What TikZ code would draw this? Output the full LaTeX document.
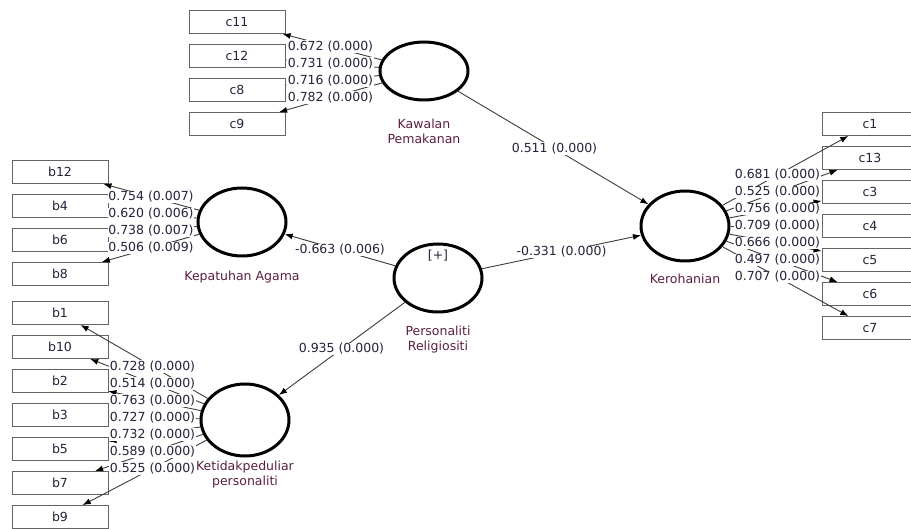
\documentclass[tikz,border=0pt]{standalone}
\usepackage{fontspec}
\setmainfont{DejaVu Sans}
\usetikzlibrary{arrows.meta,shapes.geometric,positioning,calc}

\definecolor{namecol}{RGB}{90,30,65}
\definecolor{numcol}{RGB}{35,35,60}
\definecolor{linecol}{RGB}{60,60,60}
\definecolor{boxcol}{RGB}{100,100,100}

\tikzset{
  latent/.style={ellipse,draw=black,line width=3pt,minimum width=88pt,
    minimum height=68pt,inner sep=0pt},
  indic/.style={rectangle,draw=boxcol,line width=0.9pt,fill=white,
    minimum width=96pt,minimum height=23pt,inner sep=0pt,text=numcol},
  lname/.style={text=namecol,align=center,inner sep=1pt},
  wt/.style={fill=white,inner sep=0.6pt,text=numcol},
  link/.style={draw=linecol,line width=0.9pt,->},
}

\begin{document}
\begin{tikzpicture}[>={Latex[length=8pt,width=6pt,color=black]},
        x=1pt,y=-1pt,font=\fontsize{12.5}{15}\selectfont]
  \useasboundingbox (0,0) rectangle (911,529);

  % latent variables
  \node[latent,minimum height=58pt] (kp) at (424,71) {};
  \node[latent] (ka) at (242,222) {};
  \node[latent,minimum height=72pt] (kt) at (245,420) {};
  \node[latent] (pr) at (438,278) {};
  \node[latent,minimum height=70pt] (kr) at (685,226) {};

  \node[lname] (kpname) [below=16pt of kp] {Kawalan\\Pemakanan};
  \node[lname] (kaname) [below=12pt of ka] {Kepatuhan Agama};
  \node[lname] (ktname) [below=2pt of kt] {Ketidakpeduliar\\personaliti};
  \node[lname] (prname) [below=11pt of pr] {Personaliti\\Religiositi};
  \node[lname] (krname) [below=10pt of kr] {Kerohanian};
  \node[lname,anchor=north,text=numcol] (prplus) at ([yshift=-6pt]pr.north) {[+]};

  % indicators
  \foreach \nm/\y in {c11/22,c12/56,c8/90,c9/124}
    \node[indic] (\nm) at (237,\y) {\nm};
  \foreach \nm/\y in {b12/172,b4/206,b6/240,b8/274,
                      b1/313,b10/347,b2/381,b3/415,b5/449,b7/483,b9/517}
    \node[indic] (\nm) at (60,\y) {\nm};
  \foreach \nm/\y in {c1/124,c13/158,c3/192,c4/226,c5/260,c6/294,c7/328}
    \node[indic] (\nm) at (870,\y) {\nm};

  % outer paths
  \foreach \nm in {c11,c12,c8,c9} \draw[link] (kp) -- (\nm);
  \foreach \nm in {b12,b4,b6,b8} \draw[link] (ka) -- (\nm);
  \foreach \nm in {b1,b10,b2,b3,b5,b7,b9} \draw[link] (kt) -- (\nm);
  \foreach \nm in {c1,c13,c3,c4,c5,c6,c7} \draw[link] (kr) -- (\nm);

  % inner paths
  \draw[link] (kp) -- (kr);
  \draw[link] (pr) -- (ka);
  \draw[link] (pr) -- (kr);
  \draw[link] (pr) -- (kt);

  % loadings
  \foreach \nm/\w in {c11/{0.672 (0.000)},c12/{0.731 (0.000)},
                      c8/{0.716 (0.000)},c9/{0.782 (0.000)}}
    \node[wt] (w\nm) at ($(kp)!0.5!(\nm)$) {\w};
  \foreach \nm/\w in {b12/{0.754 (0.007)},b4/{0.620 (0.006)},
                      b6/{0.738 (0.007)},b8/{0.506 (0.009)}}
    \node[wt] (w\nm) at ($(ka)!0.5!(\nm)$) {\w};
  \foreach \nm/\w in {b1/{0.728 (0.000)},b10/{0.514 (0.000)},
                      b2/{0.763 (0.000)},b3/{0.727 (0.000)},
                      b5/{0.732 (0.000)},b7/{0.589 (0.000)},
                      b9/{0.525 (0.000)}}
    \node[wt] (w\nm) at ($(kt)!0.5!(\nm)$) {\w};
  \foreach \nm/\w in {c1/{0.681 (0.000)},c13/{0.525 (0.000)},
                      c3/{0.756 (0.000)},c4/{0.709 (0.000)},
                      c5/{0.666 (0.000)},c6/{0.497 (0.000)},
                      c7/{0.707 (0.000)}}
    \node[wt] (w\nm) at ($(kr)!0.5!(\nm)$) {\w};

  % path coefficients
  \node[wt] (wkpkr) at ($(kp)!0.5!(kr)$) {0.511 (0.000)};
  \node[wt] (wprka) at ($(pr)!0.5!(ka)$) {-0.663 (0.006)};
  \node[wt] (wprkr) at ($(pr)!0.5!(kr)$) {-0.331 (0.000)};
  \node[wt] (wprkt) at ($(pr)!0.5!(kt)$) {0.935 (0.000)};
\end{tikzpicture}
\end{document}
